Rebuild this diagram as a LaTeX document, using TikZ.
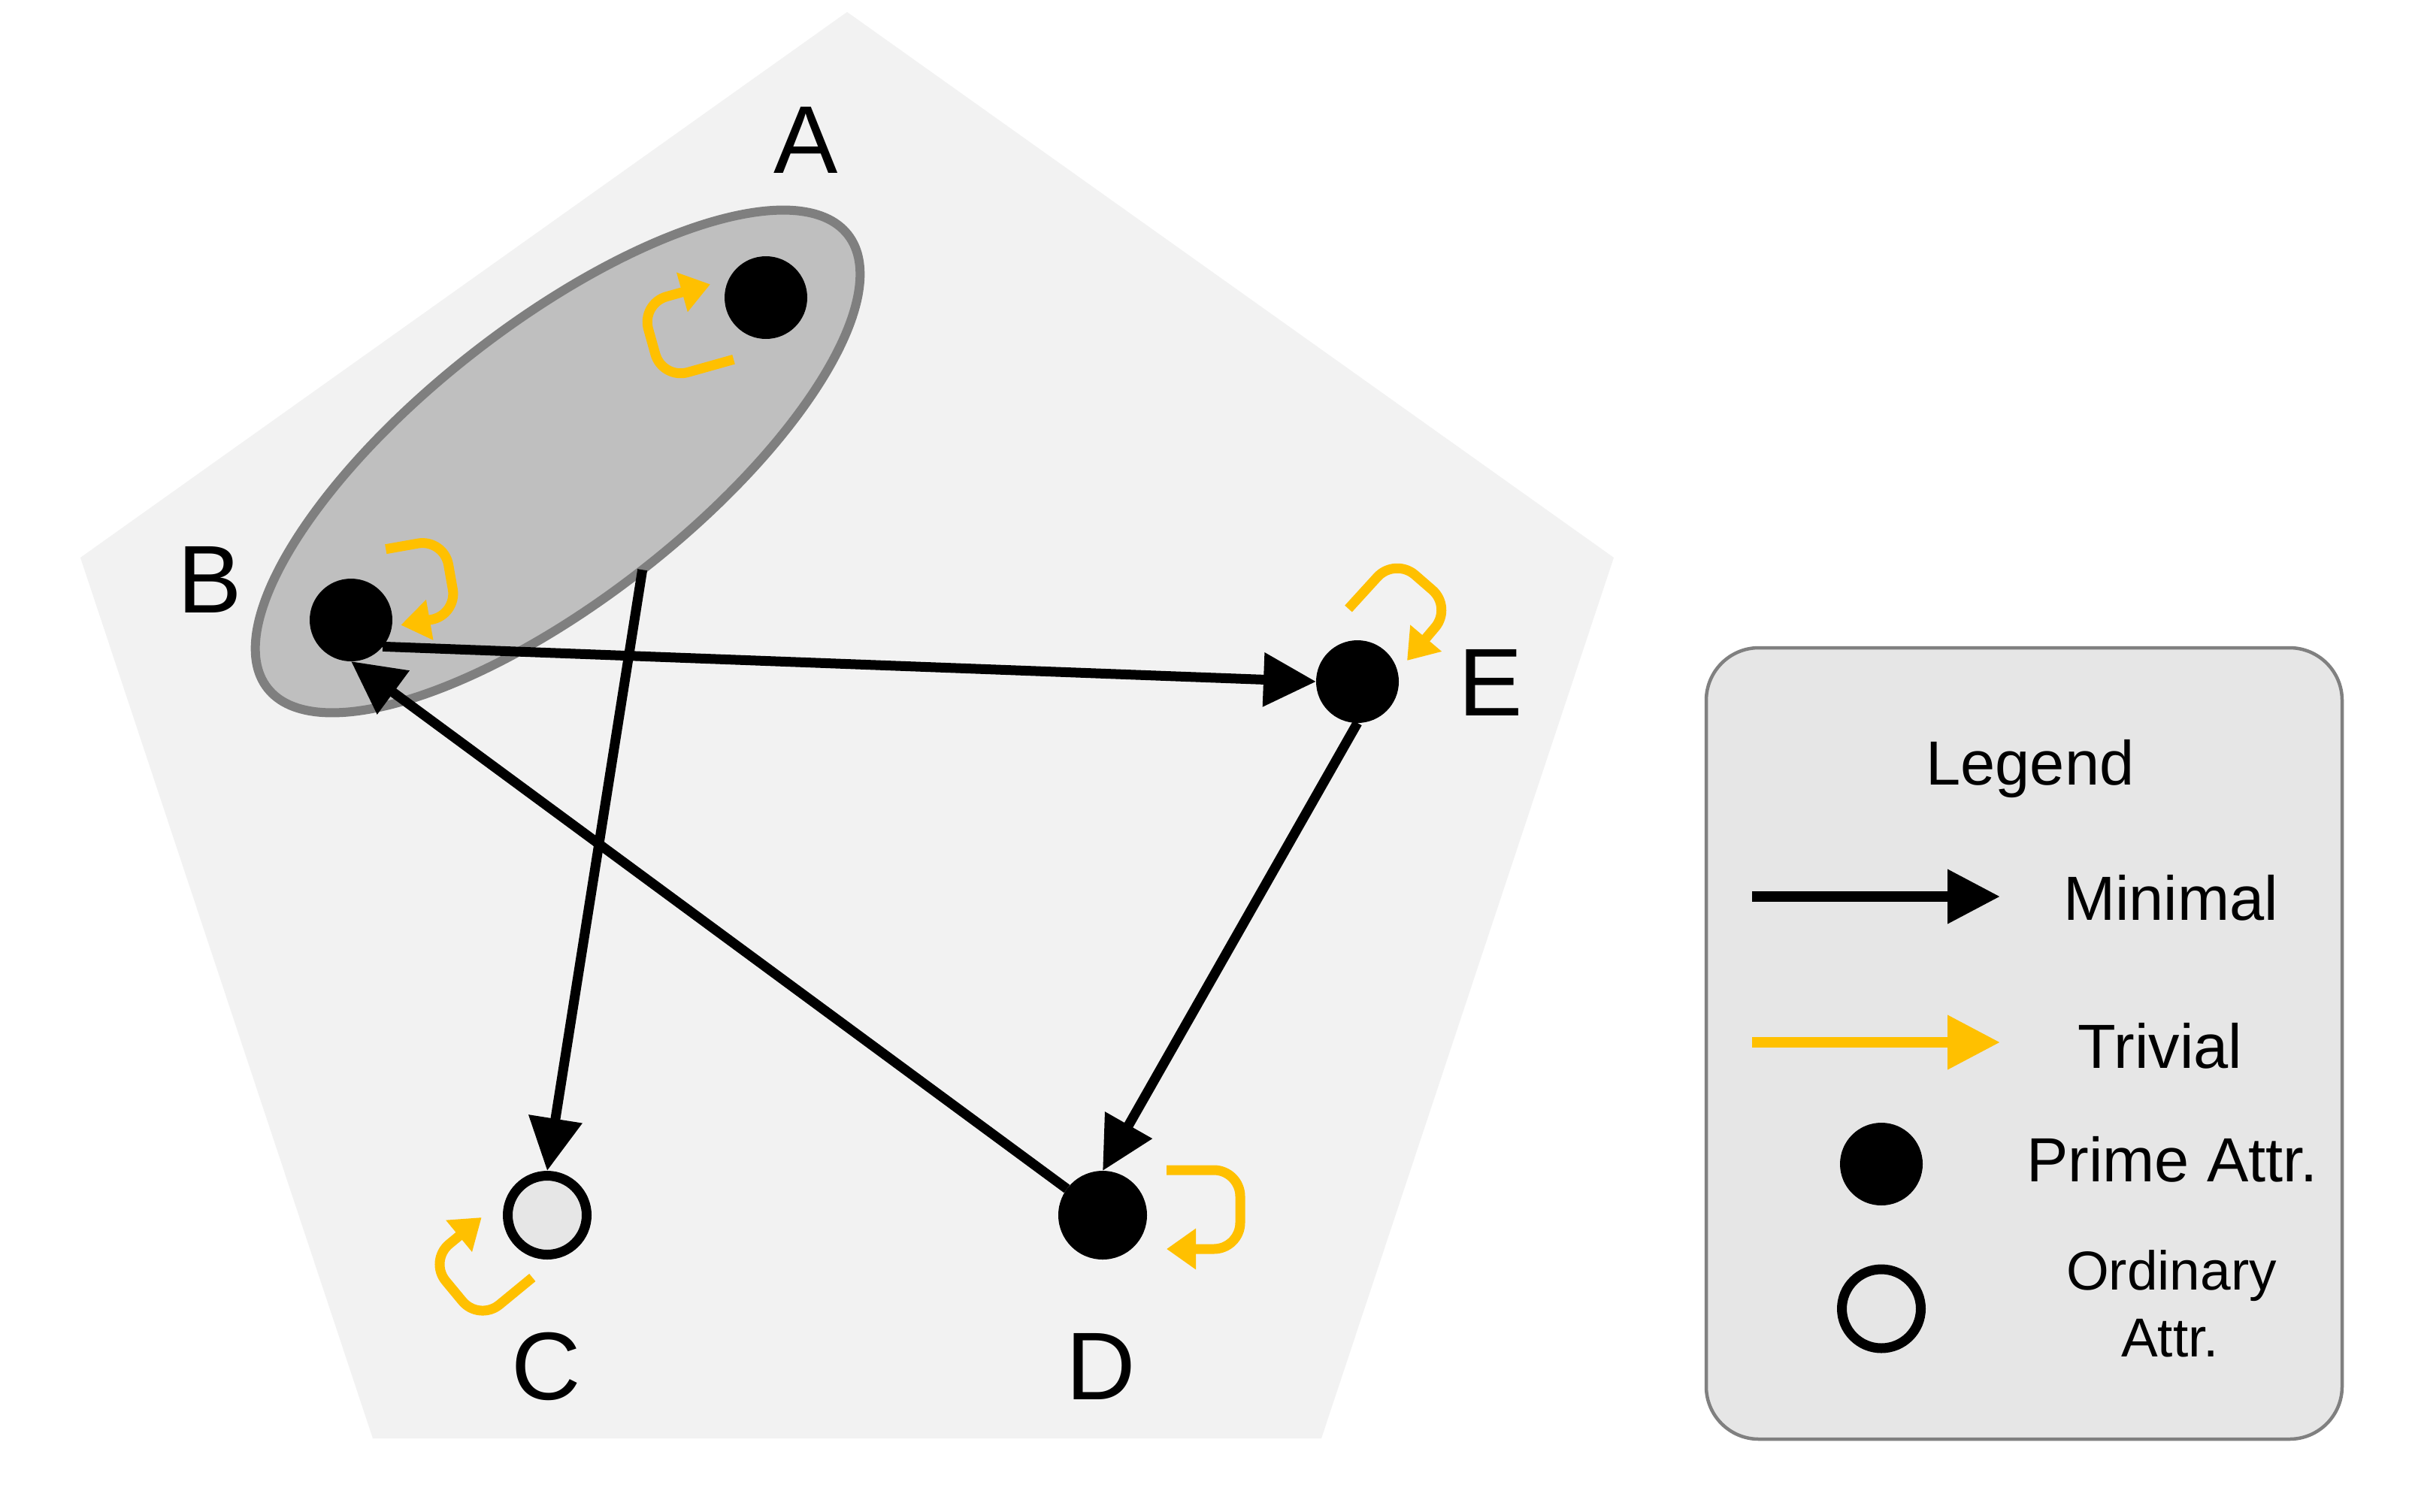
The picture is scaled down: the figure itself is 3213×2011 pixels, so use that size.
\documentclass[tikz,border=0pt]{standalone}
\usepackage{fontspec}
\setmainfont{Liberation Sans}
\usetikzlibrary{arrows.meta,shapes.geometric}
\definecolor{pentfill}{HTML}{F2F2F2}
\definecolor{grpfill}{HTML}{BFBFBF}
\definecolor{grpline}{HTML}{7F7F7F}
\definecolor{legfill}{HTML}{E6E6E6}
\definecolor{legline}{HTML}{808080}
\definecolor{trivcol}{HTML}{FFC000}
\definecolor{ordfill}{HTML}{E6E6E6}
\begin{document}
\begin{tikzpicture}[x=1pt,y=-1pt,
  prime/.style={circle,fill=black,draw=none,minimum size=110pt,inner sep=0pt,outer sep=0pt},
  ordinary/.style={circle,fill=ordfill,draw=black,line width=13pt,minimum size=105pt,inner sep=0pt,outer sep=6.5pt},
  lab/.style={inner sep=0pt,font=\fontsize{128}{150}\selectfont},
  legtext/.style={inner sep=0pt,anchor=base,font=\fontsize{83}{100}\selectfont},
  ordtext/.style={inner sep=0pt,anchor=base,font=\fontsize{73}{88}\selectfont},
  minimal/.style={draw=black,line width=13pt,-{Triangle[length=70pt,width=69pt]}},
  trivial/.style={draw=trivcol,line width=13pt,rounded corners=35pt,-{Triangle[length=39pt,width=52pt]}},
  legminimal/.style={draw=black,line width=14pt,-{Triangle[length=70pt,width=69pt]}},
  legtrivial/.style={draw=trivcol,line width=14pt,-{Triangle[length=70pt,width=69pt]}}
]
\fill[white] (0,0) rectangle (3213,2011);
\useasboundingbox (0,0) rectangle (3213,2011);
% pentagon background
\fill[pentfill] (1127,16) -- (2147,742) -- (1758,1914) -- (496,1914) -- (107,742) -- cycle;
% group ellipse
\node[ellipse,draw=grpline,line width=12pt,fill=grpfill,minimum width=980pt,minimum height=366pt,inner sep=0pt,outer sep=0pt,rotate=38] (AB) at (742,614) {};
% attribute nodes
\node[prime] (A) at (1019,396) {};
\node[prime] (B) at (467,825) {};
\node[prime] (E) at (1806,907) {};
\node[ordinary] (C) at (728,1617) {};
\node[prime,minimum size=118pt] (D) at (1467,1617) {};
% labels
\node[lab] (lA) at (1072,186) {A};
\node[lab] (lB) at (279,771) {B};
\node[lab] (lE) at (1983,908) {E};
\node[lab] (lC) at (727,1818) {C};
\node[lab] (lD) at (1465,1818) {D};
% minimal dependencies
\draw[minimal] (AB.south) -- (C.north);
\draw[minimal] (B.-40) -- (E.west);
\draw[minimal] (E.south) -- (D.north);
\draw[minimal] (D) -- (B.south);
% trivial loops
\draw[trivial] ([shift={(-43,82.3)}]A.center) -- ([shift={(-137.7,108.9)}]A.center) -- ([shift={(-165.9,8.1)}]A.center) -- ([shift={(-74,-17.7)}]A.center);
\draw[trivial] ([shift={(46.3,-94.3)}]B.center) -- ([shift={(123.5,-108)}]B.center) -- ([shift={(141.4,-6.6)}]B.center) -- ([shift={(66.3,6.7)}]B.center);
\draw[trivial] ([shift={(-19.7,83)}]C.center) -- ([shift={(-90.6,141.3)}]C.center) -- ([shift={(-157.3,60.7)}]C.center) -- ([shift={(-87.3,3)}]C.center);
\draw[trivial] ([shift={(85,-60)}]D.center) -- ([shift={(183,-60)}]D.center) -- ([shift={(183,45)}]D.center) -- ([shift={(85,45)}]D.center);
\draw[trivial] ([shift={(-12,-97)}]E.center) -- ([shift={(50,-165)}]E.center) -- ([shift={(126,-99)}]E.center) -- ([shift={(66,-28)}]E.center);
% legend
\node[draw=legline,line width=4.5pt,fill=legfill,rounded corners=70pt,minimum width=846pt,minimum height=1053pt,inner sep=0pt] (legend) at (2693,1388.5) {};
\node[legtext] (legtitle) at (2701,1044) {Legend};
\coordinate (m1) at (2331,1193);
\coordinate (m2) at (2661,1193);
\draw[legminimal] (m1) -- (m2);
\node[legtext] (tmin) at (2888,1224) {Minimal};
\coordinate (t1) at (2331,1387);
\coordinate (t2) at (2661,1387);
\draw[legtrivial] (t1) -- (t2);
\node[legtext] (ttriv) at (2874,1421) {Trivial};
\node[prime] (lp) at (2503,1549) {};
\node[legtext] (tprime) at (2890,1572) {Prime Attr.};
\node[ordinary,fill=legfill] (lo) at (2503,1741.5) {};
\node[ordtext] (tord1) at (2889,1716) {Ordinary};
\node[ordtext] (tord2) at (2887,1805) {Attr.};
\end{tikzpicture}
\end{document}
